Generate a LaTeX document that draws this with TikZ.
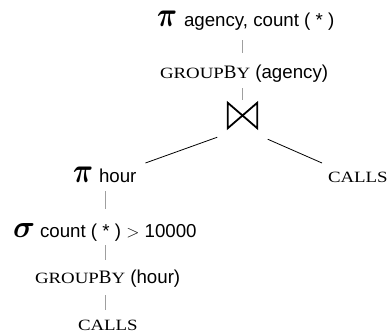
\documentclass[tikz,border=0pt]{standalone}
\usepackage{amsmath}
\usepackage{graphicx}
\usepackage{fontspec}
\setmainfont{Liberation Serif}
\newfontfamily\sansf{Liberation Sans}
\newfontfamily\scf[FakeStretch=1.2]{Liberation Serif}
\newcommand{\SCtext}[1]{{\scf\fontsize{15.7}{15.7}\selectfont #1}}
\newcommand{\GBtext}{\SCtext{GROUP}{\fontsize{19}{19}\selectfont B}\SCtext{Y}}
\newcommand{\PIsym}{\resizebox{20pt}{15.5pt}{$\boldsymbol{\pi}$}}
\newcommand{\SIGsym}{\resizebox{22pt}{14pt}{$\boldsymbol{\sigma}$}}
\newcommand{\SF}[1]{{\sansf\fontsize{18.7}{18.7}\selectfont #1}}
\begin{document}
\begin{tikzpicture}[x=1pt,y=1pt,
  lbl/.style={inner sep=0pt,outer sep=0pt,anchor=base west},
  tick/.style={draw=gray!75,line width=1.1pt},
  edge/.style={draw=black,line width=0.8pt}]
\useasboundingbox (0,0) rectangle (390,-333);
% nodes
\node[lbl] (p1) at (157,-26) {\PIsym\hspace{7pt}\SF{agency, count ( * )}};
\node[lbl] (g1) at (160,-78) {\GBtext\SF{ (agency)}};
\node[inner sep=0pt,minimum width=29pt,minimum height=25pt] (join) at (242.5,-115.5) {};
\node[lbl] (p2) at (73,-182) {\PIsym\hspace{6pt}\SF{hour}};
\node[lbl] (c1) at (328,-182) {\SCtext{CALLS}};
\node[lbl] (s) at (13,-237) {\SIGsym\hspace{5pt}\SF{count ( * ) $>$ 10000}};
\node[lbl] (g2) at (35,-283) {\GBtext\SF{ (hour)}};
\node[lbl] (c2) at (78,-330) {\SCtext{CALLS}};
% bowtie
\draw[line width=1.8pt,line join=miter]
  (join.north west) -- (join.south west) -- (join.north east) -- (join.south east) -- cycle;
% vertical ticks
\draw[tick] ([yshift=-14pt]join.north |- p1.base) -- ([yshift=25pt]join.north |- g1.base);
\draw[tick] ([yshift=-10pt]join.north |- g1.base) -- ([yshift=3pt]join.north);
\draw[tick] ([xshift=105.5pt,yshift=-9pt]p2.base -| 0,0) -- ([xshift=105.5pt,yshift=28pt]s.base -| 0,0);
\draw[tick] ([xshift=105.5pt,yshift=-8pt]s.base -| 0,0) -- ([xshift=105.5pt,yshift=23pt]g2.base -| 0,0);
\draw[tick] ([xshift=105.5pt,yshift=-12pt]g2.base -| 0,0) -- ([xshift=105.5pt,yshift=20pt]c2.base -| 0,0);
% edges
\draw[edge] ([shift={(-10.5pt,-9pt)}]join.south west) -- ([shift={(9pt,19pt)}]p2.base east);
\draw[edge] ([shift={(10.5pt,-11pt)}]join.south east) -- ([shift={(-6pt,19pt)}]c1.base west);
\end{tikzpicture}
\end{document}
